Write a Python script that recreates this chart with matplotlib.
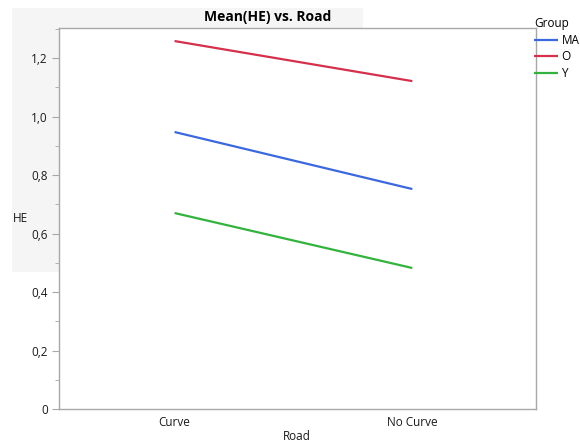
import matplotlib
matplotlib.use("Agg")
import matplotlib.pyplot as plt
from matplotlib.patches import Rectangle
from matplotlib.ticker import MultipleLocator, FuncFormatter

plt.rcParams['font.family'] = ['Open Sans', 'DejaVu Sans']

roads = ["Curve", "No Curve"]
groups = ["MA", "O", "Y"]
means_MA = [0.947, 0.752]
means_O = [1.258, 1.121]
means_Y = [0.670, 0.482]
colors = {"MA": "#3b68df", "O": "#d5304c", "Y": "#33b23e"}

W, H = 580, 444
fig = plt.figure(figsize=(W / 100, H / 100), dpi=100)
fig.patch.set_facecolor("white")

# light gray backdrop box behind title region
fig.patches.append(Rectangle((12 / W, 1 - 272 / H), 351 / W, 264 / H,
                             transform=fig.transFigure, facecolor="#f5f5f5",
                             edgecolor="none", zorder=-5))

ax = fig.add_axes([59 / W, 1 - 409 / H, (536 - 59) / W, (409 - 28) / H])
ax.set_facecolor("white")
ax.set_zorder(1)

xpos = [0, 1]
for g, vals in zip(groups, [means_MA, means_O, means_Y]):
    ax.plot(xpos, vals, color=colors[g], lw=1.6, label=g, solid_capstyle="butt")

ax.set_xlim(-0.486, 1.52)
ax.set_ylim(0, 1.3026)
ax.set_xticks(xpos)
ax.set_xticklabels(roads)
ax.yaxis.set_major_locator(MultipleLocator(0.2))
ax.yaxis.set_minor_locator(MultipleLocator(0.1))
ax.yaxis.set_major_formatter(FuncFormatter(lambda v, p: f"{v:.1f}".replace(".", ",") if abs(v) > 1e-9 else "0"))

for s in ax.spines.values():
    s.set_color("#a8a8a8")
    s.set_linewidth(1.0)

ax.tick_params(axis="y", which="major", length=5, color="#a8a8a8", labelsize=8.5, labelcolor="#1a1a1a", pad=3)
ax.tick_params(axis="y", which="minor", length=3, color="#a8a8a8")
ax.tick_params(axis="x", which="major", length=0, labelsize=8.5, labelcolor="#1a1a1a", pad=5)

fig.text(268 / W, 1 - 17 / H, "Mean(HE) vs. Road", ha="center", va="center",
         fontsize=10, fontweight="bold", color="black", zorder=5)
fig.text(13 / W, 1 - 219 / H, "HE", ha="left", va="center", fontsize=8.5, color="#1a1a1a", zorder=5)
fig.text(297 / W, 1 - 436 / H, "Road", ha="center", va="center", fontsize=8.5, color="#1a1a1a")

handles, labels = ax.get_legend_handles_labels()
leg = fig.legend(handles, labels, title="Group", loc="upper left",
                 bbox_to_anchor=(532 / W, 1 - 15 / H), frameon=False,
                 fontsize=8.5, title_fontsize=8.5, handlelength=2.0,
                 handletextpad=0.3, labelspacing=0.3, borderaxespad=0, borderpad=0.2)
leg._legend_box.align = "left"

fig.savefig("out.png", dpi=100)
